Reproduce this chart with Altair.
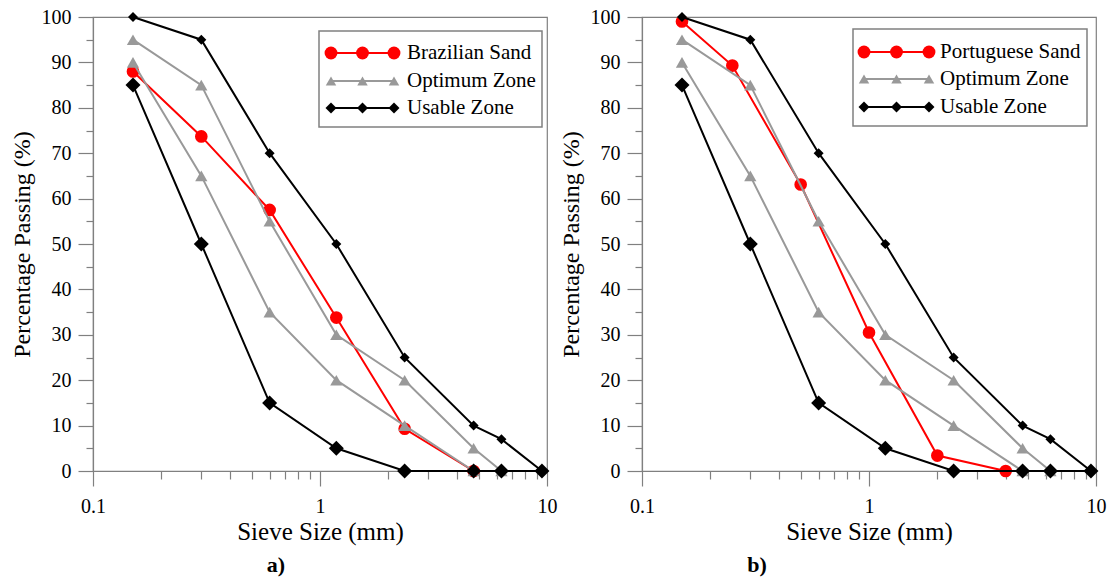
import altair as alt
import pandas as pd

# ---- data ----
sieve_usable = [0.15, 0.3, 0.6, 1.18, 2.36, 4.75, 6.3, 9.5]
usable_upper = [100, 95, 70, 50, 25, 10, 7, 0]
usable_lower = [85, 50, 15, 5, 0, 0, 0, 0]

sieve_opt_upper = [0.15, 0.3, 0.6, 1.18, 2.36, 4.75, 6.3]
optimum_upper = [95, 85, 55, 30, 20, 5, 0]
sieve_opt_lower = [0.15, 0.3, 0.6, 1.18, 2.36, 4.75]
optimum_lower = [90, 65, 35, 20, 10, 0]

sieve_brazil = [0.15, 0.3, 0.6, 1.18, 2.36, 4.75]
pass_brazil = [88, 73.7, 57.5, 33.8, 9.3, 0]

sieve_portugal = [0.15, 0.25, 0.5, 1.0, 2.0, 4.0]
pass_portugal = [99, 89.3, 63.1, 30.5, 3.4, 0]

x_tick_values = [0.1, 0.2, 0.3, 0.4, 0.5, 0.6, 0.7, 0.8, 0.9,
                 1, 2, 3, 4, 5, 6, 7, 8, 9, 10]
y_tick_values = list(range(0, 101, 5))

FONT = "Times New Roman, Liberation Serif, serif"
RED = "#ff0000"
GRAY = "#999999"
BLACK = "#000000"
FRAME = "#808080"

W = 454
H = 454

x_major = "datum.value == 0.1 || datum.value == 1 || datum.value == 10"
y_major = "datum.value % 10 == 0"

xscale = alt.Scale(type="log", domain=[0.1, 10], nice=False)
yscale = alt.Scale(domain=[0, 100], nice=False)

xaxis = alt.Axis(
    title="Sieve Size (mm)",
    values=x_tick_values,
    labelExpr=f"({x_major}) ? format(datum.value, '~g') : ''",
    tickSize={"condition": {"test": x_major, "value": 15}, "value": 8},
    labelPadding=10,
    titlePadding=3,
    titleFontSize=25,
    grid=False,
    labelFlush=False,
    labelOverlap=False,
)
yaxis = alt.Axis(
    title="Percentage Passing (%)",
    values=y_tick_values,
    labelExpr=f"({y_major}) ? datum.label : ''",
    tickSize={"condition": {"test": y_major, "value": 15}, "value": 7},
    labelPadding=7,
    titlePadding=7,
    titleFontSize=24,
    grid=False,
    labelFlush=False,
    labelOverlap=False,
)


def series(xs, ys, color, shape, size):
    df = pd.DataFrame({"size": xs, "pass": ys})
    base = alt.Chart(df).encode(
        x=alt.X("size:Q", scale=xscale, axis=xaxis),
        y=alt.Y("pass:Q", scale=yscale, axis=yaxis),
    )
    line = base.mark_line(color=color, strokeWidth=2)
    pts = base.mark_point(shape=shape, size=size, filled=True, color=color, opacity=1)
    return line + pts


def legend(box, lx1, lx2, tx, rows, sand_name):
    one = pd.DataFrame({"k": [0]})
    layers = [
        alt.Chart(one).mark_rect(fill="white", stroke=FRAME, strokeWidth=1.5).encode(
            x=alt.value(box[0]), x2=alt.value(box[1]),
            y=alt.value(box[2]), y2=alt.value(box[3]),
        )
    ]
    entries = [
        (sand_name, RED, "circle", 165),
        ("Optimum Zone", GRAY, "triangle-up", 110),
        ("Usable Zone", BLACK, "diamond", 120),
    ]
    for (label, color, shape, size), ry in zip(entries, rows):
        layers.append(
            alt.Chart(one).mark_rule(color=color, strokeWidth=2).encode(
                x=alt.value(lx1), x2=alt.value(lx2), y=alt.value(ry)
            )
        )
        for px in [lx1, (lx1 + lx2) / 2, lx2]:
            layers.append(
                alt.Chart(one).mark_point(shape=shape, size=size, filled=True,
                                          color=color, opacity=1).encode(
                    x=alt.value(px), y=alt.value(ry)
                )
            )
        layers.append(
            alt.Chart(one).mark_text(text=label, align="left", baseline="middle",
                                     font=FONT, fontSize=21, color="black").encode(
                x=alt.value(tx), y=alt.value(ry)
            )
        )
    return layers


def panel(sx, sp, sand_name, tag, tag_dx, leg):
    layers = [
        series(sx, sp, RED, "circle", 160),
        series(sieve_opt_upper, optimum_upper, GRAY, "triangle-up", 150),
        series(sieve_opt_lower, optimum_lower, GRAY, "triangle-up", 150),
        series(sieve_usable, usable_upper, BLACK, "diamond", 100),
        series(sieve_usable, usable_lower, BLACK, "diamond", 225),
    ] + legend(*leg, sand_name)
    return alt.layer(*layers).properties(
        width=W, height=H,
        title=alt.TitleParams(tag, orient="bottom", anchor="middle", dx=tag_dx,
                              fontSize=22, fontWeight="bold", font=FONT,
                              color="black", offset=11),
    )


pa = panel(sieve_brazil, pass_brazil, "Brazilian Sand", "a)", -44,
           ((226, 449, 14, 110), 238, 301, 314, (36, 64, 91)))
pb = panel(sieve_portugal, pass_portugal, "Portuguese Sand", "b)", -112,
           ((211, 445, 12, 109), 222, 287, 298, (35, 62, 90)))

chart = alt.hconcat(pa, pb, spacing=0).properties(
    padding={"left": 9, "top": 6, "right": 0, "bottom": 0}
).configure(font=FONT).configure_view(
    stroke=FRAME, strokeWidth=1.2
).configure_axis(
    labelFont=FONT, labelFontSize=20, labelColor="black",
    titleFont=FONT, titleColor="black", titleFontWeight="normal",
    domainColor=FRAME, tickColor=FRAME, domainWidth=1.2, tickWidth=1.2,
)

chart.save("out.html", embed_options={"renderer": "svg", "actions": False})
